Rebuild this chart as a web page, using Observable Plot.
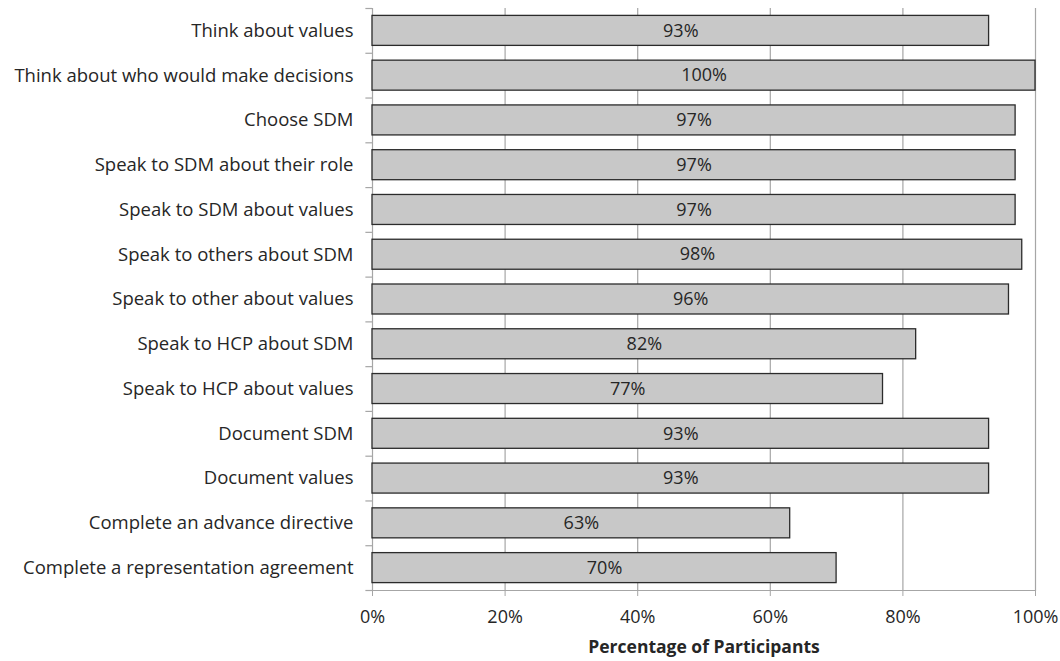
<!DOCTYPE html>
<html>
<head>
<meta charset="utf-8">
<script src="https://cdn.jsdelivr.net/npm/d3@7"></script>
<script src="https://cdn.jsdelivr.net/npm/@observablehq/plot@0.6"></script>
<style>
  html, body { margin: 0; padding: 0; background: #fff; }
  #chart svg { display: block; }
</style>
</head>
<body>
<div id="chart"></div>
<script>
const categories = [
  "Think about values",
  "Think about who would make decisions",
  "Choose SDM",
  "Speak to SDM about their role",
  "Speak to SDM about values",
  "Speak to others about SDM",
  "Speak to other about values",
  "Speak to HCP about SDM",
  "Speak to HCP about values",
  "Document SDM",
  "Document values",
  "Complete an advance directive",
  "Complete a representation agreement"
];
const values = [93, 100, 97, 97, 97, 98, 96, 82, 77, 93, 93, 63, 70];
const xTicks = [0, 20, 40, 60, 80, 100];
const xTitle = "Percentage of Participants";

const data = categories.map((c, i) => ({label: c, value: values[i]}));

const W = 1060, H = 661;
const mt = 8, mb = 71, ml = 372, mr = 25;
const step = (H - mt - mb) / categories.length;
const FONT = "'Open Sans', sans-serif";
const FS = 18.5;

const chart = Plot.plot({
  width: W,
  height: H,
  marginTop: mt,
  marginBottom: mb,
  marginLeft: ml,
  marginRight: mr,
  style: {fontFamily: FONT, fontSize: FS + "px", color: "#262626", background: "#fff"},
  x: {domain: [0, 100]},
  y: {domain: categories, paddingInner: 0.33, paddingOuter: 0.165, round: false},
  marks: [
    Plot.ruleX(xTicks.filter(d => d > 0), {stroke: "#a6a6a6", strokeWidth: 1.2}),
    Plot.frame({anchor: "bottom", stroke: "#a6a6a6", strokeWidth: 1.2}),
    Plot.frame({anchor: "left", stroke: "#a6a6a6", strokeWidth: 1.2}),
    // category boundary ticks on the left axis
    Plot.ruleY(categories, {y: d => d, dy: -step / 2, x1: -1, x2: 0, stroke: "#a6a6a6", strokeWidth: 1.2}),
    Plot.ruleY(categories.slice(-1), {y: d => d, dy: step / 2, x1: -1, x2: 0, stroke: "#a6a6a6", strokeWidth: 1.2}),
    Plot.barX(data, {x: "value", y: "label", fill: "#c8c8c8", stroke: "#2b2b2b", strokeWidth: 1.3}),
    Plot.text(data, {x: d => d.value / 2, y: "label", text: d => d.value + "%", fill: "#262626", fontSize: FS - 0.5}),
    Plot.axisY({tickSize: 0, tickPadding: 19, fontSize: FS, label: null}),
    Plot.axisX({ticks: xTicks, tickFormat: d => d + "%", tickSize: 6, stroke: "#a6a6a6", tickPadding: 14, fontSize: FS - 0.5, label: null}),
    Plot.text([xTitle], {frameAnchor: "bottom", dy: 62, text: d => d, fontWeight: "bold", fontSize: 17.5, fill: "#262626"})
  ]
});
document.getElementById("chart").appendChild(chart);
</script>
</body>
</html>
